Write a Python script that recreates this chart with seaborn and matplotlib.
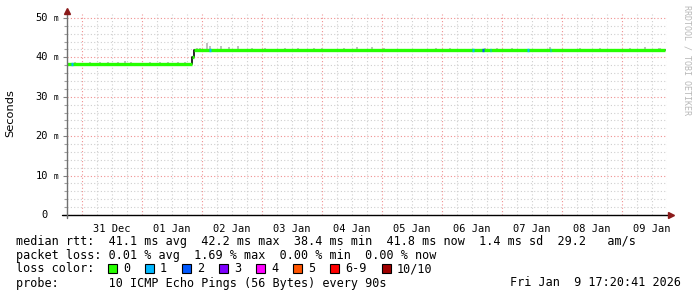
import numpy as np
import pandas as pd
import matplotlib
matplotlib.use("Agg")
import matplotlib.pyplot as plt
import matplotlib.dates as mdates
from matplotlib.patches import Rectangle
import seaborn as sns

# ---------------- data ----------------
median_time = ["2025-12-30 17:20", "2026-01-01 20:00", "2026-01-01 20:40", "2026-01-09 17:20"]
median_ms = [38.3, 40.0, 41.8, 41.8]

smoke_time = ["2025-12-30 21:12", "2025-12-31 03:12", "2025-12-31 07:12", "2025-12-31 10:24",
              "2025-12-31 14:24", "2025-12-31 17:12", "2025-12-31 19:36", "2026-01-01 03:12",
              "2026-01-01 07:12", "2026-01-01 10:24", "2026-01-01 14:24", "2026-01-01 17:12",
              "2026-01-01 22:00", "2026-01-01 23:12", "2026-01-02 02:00", "2026-01-02 03:12",
              "2026-01-02 07:36", "2026-01-02 10:48", "2026-01-02 14:24", "2026-01-02 20:00",
              "2026-01-03 01:12", "2026-01-03 09:12", "2026-01-03 14:24", "2026-01-03 20:48",
              "2026-01-04 00:00", "2026-01-04 08:48", "2026-01-04 14:00", "2026-01-04 20:00",
              "2026-01-05 00:48", "2026-01-05 21:36", "2026-01-06 03:12", "2026-01-06 17:12",
              "2026-01-06 22:00", "2026-01-07 04:00", "2026-01-07 19:12", "2026-01-08 07:12",
              "2026-01-08 15:12", "2026-01-09 03:12", "2026-01-09 09:12", "2026-01-09 15:00"]
smoke_top = [38.9, 38.8, 38.8, 38.9, 38.8, 39.0, 38.9, 38.8,
             38.8, 38.9, 38.8, 38.8,
             42.4, 42.5, 43.7, 42.9, 42.9, 42.6, 42.8, 42.4,
             42.4, 42.4, 42.4, 42.5, 42.4, 42.4, 42.6, 42.6,
             42.4, 42.5, 42.4, 42.5, 42.4, 42.3, 42.6, 42.5,
             42.3, 42.5, 42.7, 42.5]

loss_time = ["2025-12-30 19:40", "2026-01-02 02:50", "2026-01-06 12:10", "2026-01-06 16:10",
             "2026-01-06 19:00", "2026-01-07 10:10", "2026-01-07 19:00"]
loss_count = [1, 1, 1, 2, 1, 1, 1]

loss_labels = ["0", "1", "2", "3", "4", "5", "6-9", "10/10"]
loss_colors = ["#26ff00", "#00b8ff", "#0059ff", "#7e00ff", "#ff00ff", "#ff5500", "#ff0000", "#a00000"]

day_labels = ["31 Dec", "01 Jan", "02 Jan", "03 Jan", "04 Jan", "05 Jan", "06 Jan", "07 Jan", "08 Jan", "09 Jan"]
day_dates = ["2025-12-31", "2026-01-01", "2026-01-02", "2026-01-03", "2026-01-04",
             "2026-01-05", "2026-01-06", "2026-01-07", "2026-01-08", "2026-01-09"]
y_major = [0, 10, 20, 30, 40, 50]

legend_lines = [
    "median rtt:  41.1 ms avg  42.2 ms max  38.4 ms min  41.8 ms now  1.4 ms sd  29.2   am/s",
    "packet loss: 0.01 % avg  1.69 % max  0.00 % min  0.00 % now",
    "loss color:",
    "probe:       10 ICMP Echo Pings (56 Bytes) every 90s",
]
stamp = "Fri Jan  9 17:20:41 2026"

# ---------------- figure ----------------
sns.set_theme(style="white")
plt.rcParams['font.family'] = ['DejaVu Sans']
MONO = ['DejaVu Sans Mono']

W, H = 697, 297
fig = plt.figure(figsize=(W / 100, H / 100), dpi=100)
fig.patch.set_facecolor("white")
ax = fig.add_axes([67 / W, (H - 215) / H, 600 / W, 201 / H])
ax.set_facecolor("white")

mt = mdates.date2num(pd.to_datetime(median_time))
df_med = pd.DataFrame({"t": mt, "ms": median_ms})

# smoke
st = mdates.date2num(pd.to_datetime(smoke_time))
idx = np.searchsorted(mt, st, side="right") - 1
sbottom = np.array(median_ms)[idx]
ax.bar(st, np.array(smoke_top) - sbottom, bottom=sbottom, width=0.04,
       color="#c0c0c0", linewidth=0, zorder=2)

# black step line (transitions)
sns.lineplot(data=df_med, x="t", y="ms", ax=ax, color="black", linewidth=1.2,
             drawstyle="steps-post", zorder=3, legend=False)
# green horizontal median (loss 0)
ax.hlines(median_ms[:-1], mt[:-1], mt[1:], colors=loss_colors[0], linewidth=2.4, zorder=4)

# loss-coloured segments
lt = mdates.date2num(pd.to_datetime(loss_time))
lidx = np.searchsorted(mt, lt, side="right") - 1
lval = np.array(median_ms)[lidx]
ax.hlines(lval, lt, lt + 0.03, colors=[loss_colors[c] for c in loss_count], linewidth=2.4, zorder=5)

# axes limits
x0 = mdates.date2num(pd.Timestamp("2025-12-30 18:00"))
x1 = mdates.date2num(pd.Timestamp("2026-01-09 18:00"))
ax.set_xlim(x0, x1)
ax.set_ylim(0, 51)
ax.set_xlabel("")
ax.set_ylabel("")

ax.xaxis.set_major_locator(mdates.DayLocator())
ax.xaxis.set_minor_locator(mdates.HourLocator(byhour=[6, 12, 18]))
ax.xaxis.set_major_formatter(plt.NullFormatter())
ax.yaxis.set_major_locator(plt.FixedLocator(y_major))
ax.yaxis.set_minor_locator(plt.MultipleLocator(2))
ax.yaxis.set_major_formatter(plt.NullFormatter())

ax.grid(which="major", color="#f09090", linestyle=(0, (1, 2)), linewidth=0.8)
ax.grid(which="minor", color="#cfcfcf", linestyle=(0, (1, 2)), linewidth=0.8)
ax.tick_params(axis="x", which="both", length=0)
ax.tick_params(axis="y", which="major", length=3, color="#808080", width=0.8, left=True)
ax.tick_params(axis="y", which="minor", length=2, color="#a0a0a0", width=0.8, left=True)

for s in ["top", "right", "bottom", "left"]:
    ax.spines[s].set_visible(False)
# axis lines
ax.plot([-0.008, 1.003], [0, 0], transform=ax.transAxes, color="black", lw=1.0, clip_on=False, zorder=6)
ax.plot([0, 0], [-0.015, 1.01], transform=ax.transAxes, color="#707070", lw=1.0, clip_on=False, zorder=6)
ax.plot([1.007], [0], marker=">", color="#8b1a1a", markersize=4, transform=ax.transAxes, clip_on=False, zorder=7)
ax.plot([0], [1.017], marker="^", color="#8b1a1a", markersize=4, transform=ax.transAxes, clip_on=False, zorder=7)

# y tick labels
for v in y_major:
    yp = ax.transData.transform((x0, v))[1]
    fig.text(48 / W, yp / H, str(v), ha="right", va="center", family=MONO, fontsize=7.5, color="black")
    if v != 0:
        fig.text(53.5 / W, (yp - 0.5) / H, "m", ha="left", va="center", family=MONO, fontsize=5.5, color="black")

# x tick labels at noon
for lab, d in zip(day_labels, day_dates):
    xn = mdates.date2num(pd.Timestamp(d) + pd.Timedelta(hours=12))
    ax.text(xn, -0.045, lab, transform=ax.get_xaxis_transform(), ha="center", va="top",
            family=MONO, fontsize=7.5, color="black")

fig.text(10 / W, 1 - 113 / H, "Seconds", rotation=90, ha="center", va="center",
         fontsize=8.2, color="black")
fig.text(687 / W, 1 - 5 / H, "RRDTOOL / TOBI OETIKER", rotation=-90, ha="center", va="top",
         family=MONO, fontsize=6.0, color="#b8b8b8")

# legend text
ys = [241.5, 255, 268.5, 283]
for line, y in zip(legend_lines, ys):
    fig.text(16 / W, 1 - y / H, line, ha="left", va="center", family=MONO, fontsize=8.5, color="black")
fig.text(681 / W, 1 - ys[3] / H, stamp, ha="right", va="center", family=MONO, fontsize=8.5, color="black")

box_x = [108, 145, 182, 219, 256, 293, 330, 382]
for lab, col, bx in zip(loss_labels, loss_colors, box_x):
    fig.add_artist(Rectangle((bx / W, 1 - 273 / H), 9 / W, 9 / H, transform=fig.transFigure,
                             facecolor=col, edgecolor="black", linewidth=0.8))
    fig.text((bx + 15) / W, 1 - ys[2] / H, lab, ha="left", va="center", family=MONO, fontsize=8.5, color="black")

fig.savefig("out.png", dpi=100, facecolor="white")
